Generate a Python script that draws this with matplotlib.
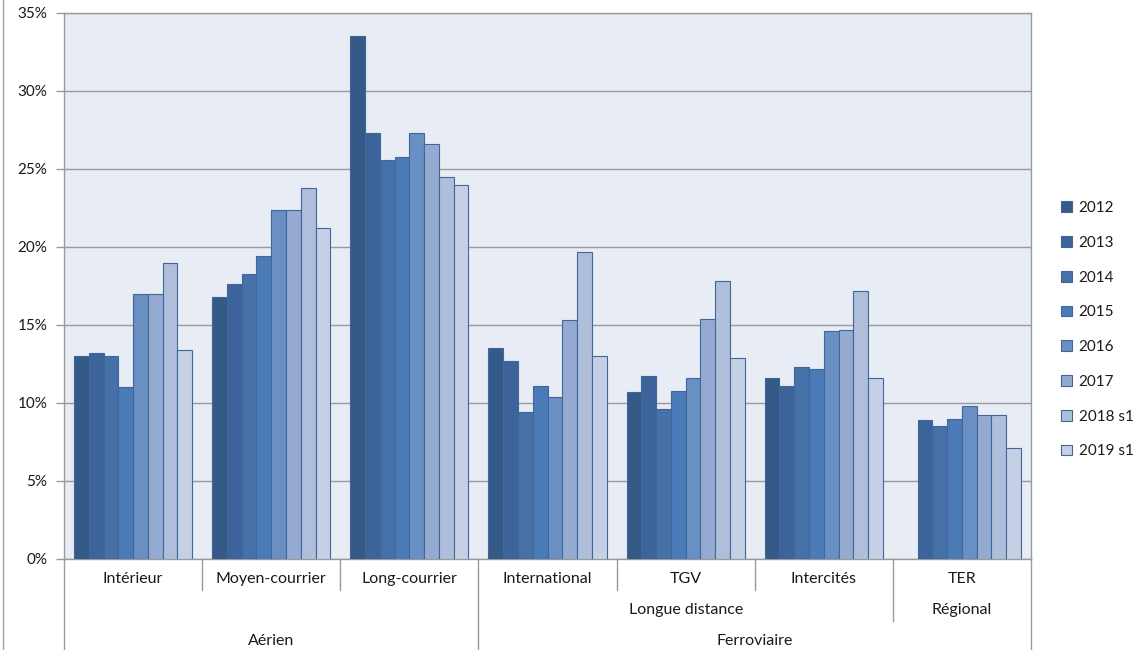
import numpy as np
import matplotlib
matplotlib.use("Agg")
import matplotlib.pyplot as plt
from matplotlib.transforms import blended_transform_factory
from matplotlib.ticker import FuncFormatter

plt.rcParams['font.family'] = ['Lato', 'DejaVu Sans']

categories = ['Intérieur', 'Moyen-courrier', 'Long-courrier', 'International', 'TGV', 'Intercités', 'TER']
years = ['2012', '2013', '2014', '2015', '2016', '2017', '2018 s1', '2019 s1']

values = {
    '2012':    [13.0, 16.8, 33.5, 13.5, 10.7, 11.6, np.nan],
    '2013':    [13.2, 17.6, 27.3, 12.7, 11.7, 11.1, 8.9],
    '2014':    [13.0, 18.3, 25.6, 9.4, 9.6, 12.3, 8.5],
    '2015':    [11.0, 19.4, 25.8, 11.1, 10.8, 12.2, 9.0],
    '2016':    [17.0, 22.4, 27.3, 10.4, 11.6, 14.6, 9.8],
    '2017':    [17.0, 22.4, 26.6, 15.3, 15.4, 14.7, 9.2],
    '2018 s1': [19.0, 23.8, 24.5, 19.7, 17.8, 17.2, 9.2],
    '2019 s1': [13.4, 21.2, 24.0, 13.0, 12.9, 11.6, 7.1],
}

subgroups = [('Longue distance', 3, 5), ('Régional', 6, 6)]
groups = [('Aérien', 0, 2), ('Ferroviaire', 3, 6)]

colors = ['#365A87', '#3D649A', '#4571A8', '#4B7BB7', '#6A8FC3', '#95AAD1', '#AEBEDB', '#C6D0E4']

W, H = 1134, 650
fig = plt.figure(figsize=(W / 100, H / 100), dpi=100)
fig.patch.set_facecolor('white')

x0, x1, ytop, ybot = 64, 1031, 13, 559
ax = fig.add_axes([x0 / W, 1 - ybot / H, (x1 - x0) / W, (ybot - ytop) / H])
ax.set_facecolor('#E8ECF4')

n = len(years)
bw = 0.107
x = np.arange(len(categories))
for j, yr in enumerate(years):
    ax.bar(x + (j - (n - 1) / 2) * bw, values[yr], width=bw, color=colors[j],
           edgecolor='#41679A', linewidth=0.8, label=yr, zorder=3)

ax.set_xlim(-0.5, len(categories) - 0.5)
ax.set_ylim(0, 35)
ax.set_yticks(np.arange(0, 36, 5))
ax.yaxis.set_major_formatter(FuncFormatter(lambda v, p: f'{int(v)}%'))
ax.grid(axis='y', color='#9A9A9A', linewidth=1.0, zorder=1)
ax.set_xticks([])
ax.tick_params(axis='y', length=6, width=1.0, color='#9A9A9A', pad=6,
               labelsize=11, labelcolor='#1a1a1a')
for s in ['top', 'right', 'left', 'bottom']:
    ax.spines[s].set_color('#9A9A9A')
    ax.spines[s].set_linewidth(1.0)

# multi-level category axis
tr = blended_transform_factory(ax.transData, fig.transFigure)
def fy(px):
    return 1 - px / H

row_centers = [579, 610, 641]
row_bottoms = [590, 621, 650]
lc = '#9A9A9A'
fs = 11.5
for i, c in enumerate(categories):
    ax.text(i, fy(row_centers[0]), c, transform=tr, ha='center', va='center',
            fontsize=fs, color='#1a1a1a', clip_on=False)
for name, a, b in subgroups:
    ax.text((a + b) / 2, fy(row_centers[1]), name, transform=tr, ha='center', va='center',
            fontsize=fs, color='#1a1a1a', clip_on=False)
for name, a, b in groups:
    ax.text((a + b) / 2, fy(row_centers[2]), name, transform=tr, ha='center', va='center',
            fontsize=fs, color='#1a1a1a', clip_on=False)

grp_bounds = set()
for _, a, b in groups:
    grp_bounds.update([a - 0.5, b + 0.5])
sub_bounds = set()
for _, a, b in subgroups:
    sub_bounds.update([a - 0.5, b + 0.5])
for k in range(len(categories) + 1):
    bpos = k - 0.5
    if bpos in grp_bounds:
        yb = 650
    elif bpos in sub_bounds:
        yb = row_bottoms[1]
    else:
        yb = row_bottoms[0]
    ax.plot([bpos, bpos], [fy(ybot), fy(yb)], transform=tr, color=lc, lw=1.0, clip_on=False)

# outer chart border line on left
fig.add_artist(plt.Line2D([2.5 / W, 2.5 / W], [0, 1], color='#A0A0A0', lw=1.0))

leg = ax.legend(loc='upper left', bbox_to_anchor=(1061 / W, 1 - 201 / H), bbox_transform=fig.transFigure,
                frameon=False, fontsize=11, handlelength=0.7, handleheight=0.7,
                handletextpad=0.45, labelspacing=1.36, borderpad=0, borderaxespad=0)
for t in leg.get_texts():
    t.set_color('#1a1a1a')

fig.savefig('out.png', dpi=100)
